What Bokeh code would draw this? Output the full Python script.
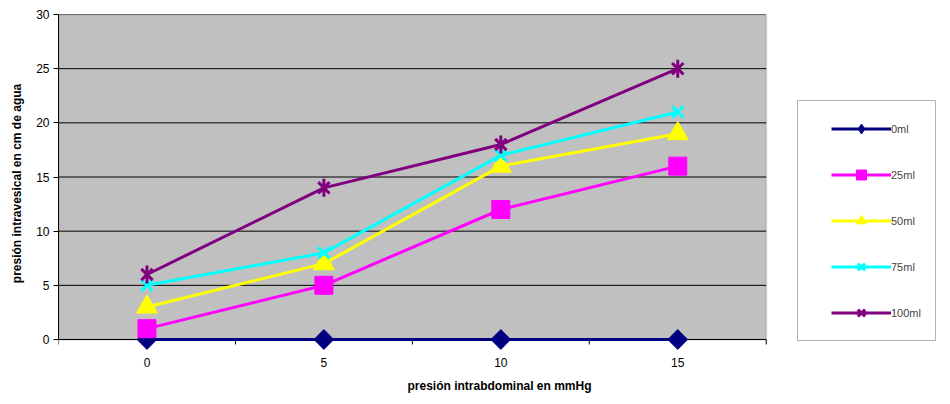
from bokeh.plotting import figure
from bokeh.models import (Range1d, LinearAxis, FixedTicker, Legend, LegendItem,
                          BoxAnnotation)
from bokeh.embed import file_html
from bokeh.resources import INLINE

# Abdominal pressure levels (mmHg) shown as evenly spaced categories
categories = ["0", "5", "10", "15"]

# Intravesical pressure (cm H2O) for each instilled volume
vol_0ml = [0, 0, 0, 0]
vol_25ml = [1, 5, 12, 16]
vol_50ml = [3, 7, 16, 19]
vol_75ml = [5, 8, 17, 21]
vol_100ml = [6, 14, 18, 25]

series_labels = ["0ml", "25ml", "50ml", "75ml", "100ml"]
y_ticks = [0, 5, 10, 15, 20, 25, 30]
Y_MAX = 30
Y_LOW = -1.2          # room below zero so markers on the axis are not cut
TICK_LEN = 0.46       # category tick length, in y units (about 5 px)

FONT = "Liberation Sans"
n = len(categories)
xs = list(range(n))
x_lo, x_hi = -0.5, n - 0.5

# The frame is widened (right, for the legend) and deepened (below zero);
# the grey plotting area is drawn as a box inside it.
p = figure(width=950, height=404, output_backend="svg", toolbar_location=None,
           x_range=Range1d(x_lo, x_hi + 0.985), y_range=Range1d(Y_LOW, Y_MAX),
           x_axis_type=None, y_axis_type=None,
           min_border_left=58, min_border_right=10, min_border_top=14,
           min_border_bottom=52)
p.background_fill_color = None
p.border_fill_color = "white"
p.outline_line_color = None
p.xgrid.visible = False
p.ygrid.visible = False

p.add_layout(BoxAnnotation(left=x_lo, right=x_hi, bottom=0, top=Y_MAX,
                           fill_color="#C0C0C0", fill_alpha=1,
                           line_color="#808080", line_width=2, level="image"))

# horizontal grid lines across the plotting area only
p.segment(x0=[x_lo] * len(y_ticks), x1=[x_hi] * len(y_ticks), y0=y_ticks, y1=y_ticks,
          line_color="black", line_width=1, level="underlay")

# category ticks at the boundaries between categories, hanging below zero
bounds_x = [i - 0.5 for i in range(n + 1)]
p.segment(x0=bounds_x, x1=bounds_x, y0=[0] * len(bounds_x), y1=[-TICK_LEN] * len(bounds_x),
          line_color="black", line_width=1, level="underlay")

# category axis: labels only, centred under each category
xaxis = LinearAxis(ticker=FixedTicker(ticks=xs),
                   major_label_overrides={i: c for i, c in enumerate(categories)},
                   axis_label="presión intrabdominal en mmHg")
xaxis.major_tick_out = 0
xaxis.major_tick_in = 0
xaxis.minor_tick_line_color = None
xaxis.axis_line_color = None
xaxis.major_label_standoff = 5
xaxis.axis_label_standoff = 9
p.add_layout(xaxis, "below")

yaxis = LinearAxis(ticker=FixedTicker(ticks=y_ticks),
                   axis_label="presión intravesical en cm de agua",
                   bounds=(0, Y_MAX))
yaxis.major_tick_out = 5
yaxis.major_tick_in = 0
yaxis.minor_tick_line_color = None
yaxis.axis_line_color = "black"
yaxis.major_label_standoff = 4
yaxis.axis_label_standoff = 9
p.add_layout(yaxis, "left")

for ax in (xaxis, yaxis):
    ax.major_label_text_font = FONT
    ax.major_label_text_font_size = "12px"
    ax.major_label_text_color = "black"
    ax.axis_label_text_font = FONT
    ax.axis_label_text_font_size = "12px"
    ax.axis_label_text_font_style = "bold"
    ax.axis_label_text_color = "black"

items = []

def add_series(ys, color, markers, label, n_key=None):
    """Line plus markers; n_key limits which markers appear in the legend key."""
    ln = p.line(xs, ys, line_color=color, line_width=3)
    rs = [ln]
    for kind, size, kw in markers:
        rs.append(p.scatter(xs, ys, marker=kind, size=size, **kw))
    items.append(LegendItem(label=label, renderers=rs[:n_key] if n_key else rs))

# 0ml: a diamond (used for the legend key) under a 45-degree square
add_series(vol_0ml, "#000080",
           [("diamond", 18, dict(fill_color="#000080", line_color="#000080")),
            ("square", 14, dict(fill_color="#000080", line_color="#000080", angle=0.7854))],
           series_labels[0], n_key=2)
add_series(vol_25ml, "#FF00FF",
           [("square", 18, dict(fill_color="#FF00FF", line_color="#FF00FF"))], series_labels[1])
add_series(vol_50ml, "#FFFF00",
           [("triangle", 21, dict(fill_color="#FFFF00", line_color="#FFFF00"))], series_labels[2])
add_series(vol_75ml, "#00FFFF",
           [("x", 16, dict(line_color="#00FFFF", line_width=3))], series_labels[3])
add_series(vol_100ml, "#800080",
           [("x", 16, dict(line_color="#800080", line_width=3)),
            ("dash", 18, dict(line_color="#800080", line_width=3, angle=1.5708))],
           series_labels[4])

# legend frame (screen units here are measured from the frame's bottom-left)
p.add_layout(BoxAnnotation(left=739, right=877, top=252, bottom=12,
                           left_units="screen", right_units="screen",
                           top_units="screen", bottom_units="screen",
                           fill_color="white", fill_alpha=1,
                           line_color="black", line_width=1, level="underlay"))

legend = Legend(items=items, location=(773, 27), orientation="vertical",
                padding=0, margin=0, spacing=21, glyph_width=60, glyph_height=25,
                label_height=20, label_standoff=0,
                label_text_font=FONT, label_text_font_size="11px",
                border_line_color=None, background_fill_alpha=0)
p.add_layout(legend, "center")

open("out.html", "w").write(file_html(p, INLINE))
